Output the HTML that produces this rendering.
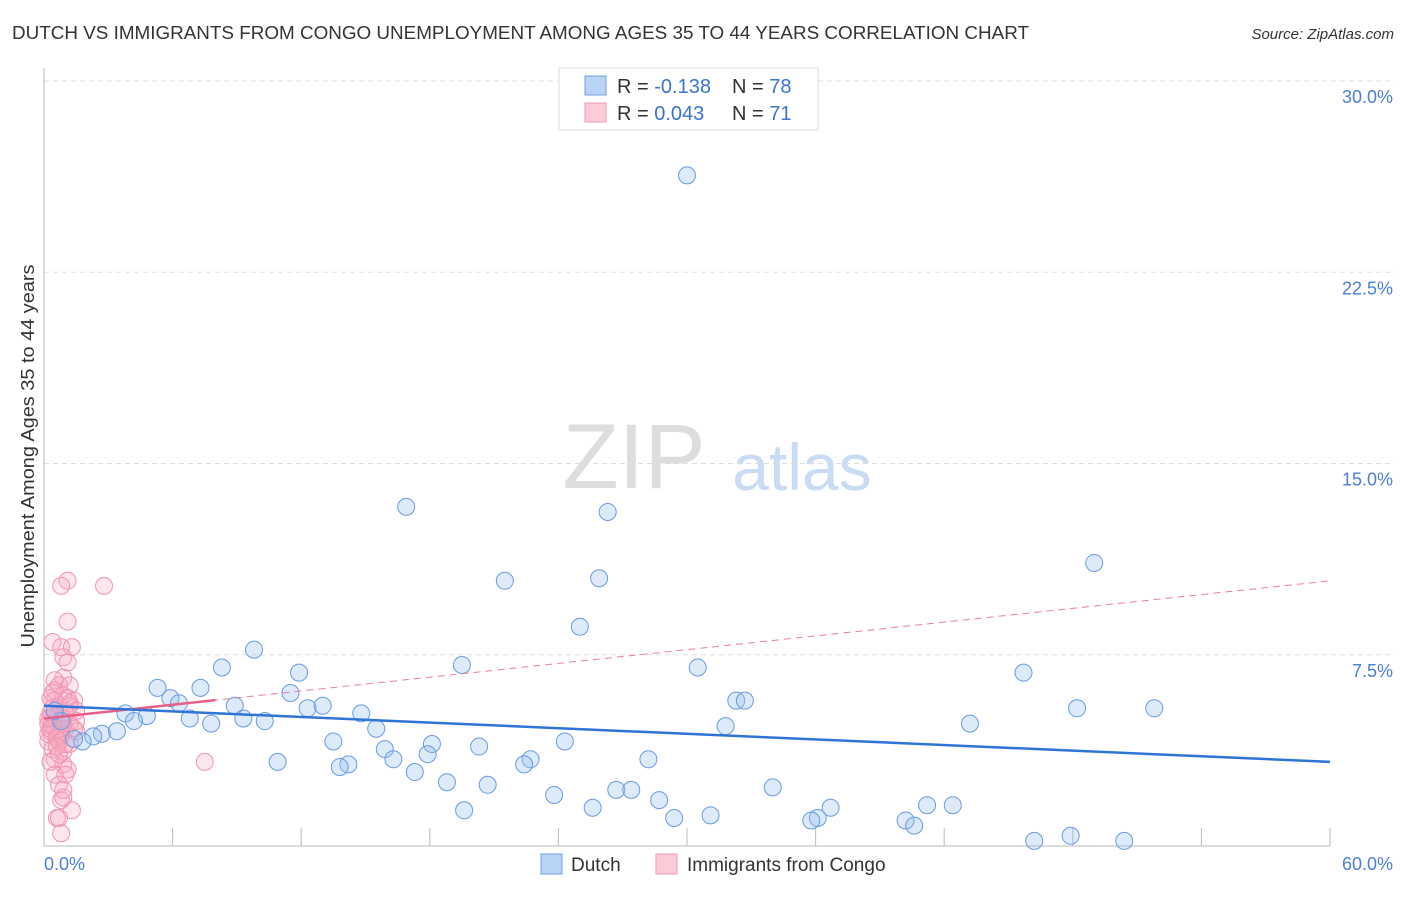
<!DOCTYPE html>
<html><head><meta charset="utf-8"><style>
body{margin:0;background:#fff;font-family:"Liberation Sans",sans-serif;}
svg text{font-family:"Liberation Sans",sans-serif;}
</style></head><body>
<svg id="chart" width="1406" height="892" xmlns="http://www.w3.org/2000/svg">
<text x="12" y="39" font-size="18" fill="#333" textLength="1017" lengthAdjust="spacingAndGlyphs">DUTCH VS IMMIGRANTS FROM CONGO UNEMPLOYMENT AMONG AGES 35 TO 44 YEARS CORRELATION CHART</text>
<text x="1394" y="39" font-size="15" fill="#333" font-style="italic" text-anchor="end">Source: ZipAtlas.com</text>
<text x="634" y="488" font-size="92" fill="#ddd" font-family="Liberation Serif,serif" text-anchor="middle">ZIP</text>
<text x="802" y="490" font-size="66" fill="#c9dcf3" text-anchor="middle">atlas</text>
<g id="grid"></g>
<g id="axes"></g>
<g id="marks"></g>
<text transform="translate(34,456) rotate(-90)" font-size="18" fill="#333" text-anchor="middle" textLength="383" lengthAdjust="spacingAndGlyphs">Unemployment Among Ages 35 to 44 years</text>
<text x="44" y="870" font-size="18" fill="#4a7fd4">0.0%</text>
<text x="1393" y="870" font-size="18" fill="#4a7fd4" text-anchor="end">60.0%</text>
<g>
<rect x="559" y="68" width="259" height="62" fill="#fff" stroke="#ddd"/>
<rect x="585" y="76" width="21" height="19" fill="#b9d3f5" stroke="#6f9fe0"/>
<rect x="585" y="103" width="21" height="19" fill="#fccbd8" stroke="#ee9ab2"/>
<text x="617" y="93" font-size="20" fill="#333">R = <tspan fill="#3a74d0">-0.138</tspan></text>
<text x="732" y="93" font-size="20" fill="#333">N = <tspan fill="#3a74d0">78</tspan></text>
<text x="617" y="120" font-size="20" fill="#333">R = <tspan fill="#3a74d0"> 0.043</tspan></text>
<text x="732" y="120" font-size="20" fill="#333">N = <tspan fill="#3a74d0"> 71</tspan></text>
</g>
<g>
<rect x="541" y="854" width="21" height="20" fill="#b9d3f5" stroke="#6f9fe0"/>
<text x="571" y="871" font-size="19" fill="#333">Dutch</text>
<rect x="656" y="854" width="21" height="20" fill="#fccbd8" stroke="#ee9ab2"/>
<text x="687" y="871" font-size="19" fill="#333">Immigrants from Congo</text>
</g>
</svg>
<script>
const yTicks=[7.5,15,22.5,30];
const yTickLabels=["7.5%","15.0%","22.5%","30.0%"];
const dutchX=[30.0,16.9,26.3,21.5,25.9,49.0,25.0,9.8,8.3,19.5,11.9,30.5,45.7,5.3,7.3,11.5,5.9,6.3,8.9,12.3,13.0,32.3,32.7,3.8,4.8,4.2,6.8,7.8,9.3,10.3,14.8,15.5,31.8,43.2,48.2,51.8,3.4,2.7,2.3,1.8,1.4,13.5,15.9,18.1,20.3,24.3,17.9,16.3,22.7,28.2,10.9,14.2,13.8,22.4,17.3,18.8,20.7,34.0,26.7,27.4,23.8,28.7,25.6,36.7,42.4,41.2,19.6,31.1,29.4,36.1,35.8,40.2,40.6,46.2,47.9,50.4,0.8,0.5];
const dutchY=[26.3,13.3,13.1,10.4,10.5,11.1,8.6,7.7,7.0,7.1,6.8,7.0,6.8,6.2,6.2,6.0,5.8,5.6,5.5,5.4,5.5,5.7,5.7,5.2,5.1,4.9,5.0,4.8,5.0,4.9,5.2,4.6,4.7,4.8,5.4,5.4,4.5,4.4,4.3,4.1,4.2,4.1,3.8,4.0,3.9,4.1,3.6,3.4,3.4,3.4,3.3,3.2,3.1,3.2,2.9,2.5,2.4,2.3,2.2,2.2,2.0,1.8,1.5,1.5,1.6,1.6,1.4,1.2,1.1,1.1,1.0,1.0,0.8,0.2,0.4,0.2,4.9,5.3];
const congoX=[1.1,0.8,2.8,1.1,0.4,0.8,1.3,0.9,1.1,0.9,0.5,0.7,1.2,0.5,0.9,0.3,1.4,0.7,1.2,1.5,0.3,0.5,0.9,0.2,1.2,0.5,1.0,0.3,0.8,1.5,0.2,0.7,1.2,0.4,0.9,0.5,0.3,0.9,1.1,0.5,1.0,0.7,0.8,0.9,0.6,0.7,1.3,0.8,0.9,7.5,1.5,0.4,0.2,0.6,1.0,1.4,0.6,0.3,0.8,1.2,0.4,0.6,1.1,0.7,0.3,0.5,0.9,0.2,1.0,0.4,0.6];
const congoY=[10.4,10.2,10.2,8.8,8.0,7.8,7.8,7.4,7.2,6.6,6.5,6.3,6.3,6.1,5.9,5.8,5.7,5.5,5.6,5.3,5.2,5.1,5.0,4.8,4.8,4.7,4.6,4.5,4.3,4.5,4.1,4.1,4.0,3.8,3.7,3.4,3.3,3.2,3.0,2.8,2.8,2.4,1.8,1.9,1.1,1.1,1.4,0.5,2.2,3.3,4.9,5.4,4.4,4.9,5.2,4.6,4.3,5.0,4.4,5.5,4.7,4.2,5.8,3.6,4.6,5.7,4.8,5.0,4.0,6.0,3.9];
const dutchTrend=[5.5,3.3];
const congoTrend=[5.0,10.4];
const X=v=>44+v*(1286/60);
const Y=v=>846-v*25.5;
const NS="http://www.w3.org/2000/svg";
function mk(tag,attrs,parent){const e=document.createElementNS(NS,tag);for(const k in attrs)e.setAttribute(k,attrs[k]);parent.appendChild(e);return e;}
const grid=document.getElementById('grid'),axes=document.getElementById('axes'),marks=document.getElementById('marks');
yTicks.forEach((t,i)=>{
 const l=mk('line',{x1:44,x2:1395,y1:Y(t),y2:Y(t),stroke:'#ddd','stroke-dasharray':'5,4'},grid);
 
 
 const tx=mk('text',{x:1393,y:Y(t)+22,'font-size':18,fill:'#4a7fd4','text-anchor':'end'},grid);
 tx.textContent=yTickLabels[i];
 
 
});
const ax=mk('line',{x1:44,x2:1330,y1:846,y2:846,stroke:'#bbb'},axes);


const ay=mk('line',{x1:44,x2:44,y1:68,y2:846,stroke:'#bbb'},axes);


for(let i=1;i<=10;i++){
 const t=mk('line',{x1:X(i*6),x2:X(i*6),y1:828,y2:846,stroke:'#bbb'},axes);
 
 
}
congoX.forEach((x,i)=>{
 const c=mk('circle',{cx:X(x),cy:Y(congoY[i]),r:8.5,fill:'rgba(248,170,195,0.28)',stroke:'#f095b0','stroke-width':1},marks);
 
 
});
dutchX.forEach((x,i)=>{
 const c=mk('circle',{cx:X(x),cy:Y(dutchY[i]),r:8.5,fill:'rgba(150,190,240,0.32)',stroke:'#6a9be0','stroke-width':1},marks);
 
 
});
const ct=(v)=>congoTrend[0]+(congoTrend[1]-congoTrend[0])*v/60;
const cd=mk('line',{x1:X(0),y1:Y(congoTrend[0]),x2:X(60),y2:Y(congoTrend[1]),stroke:'#e87fa0','stroke-width':1,'stroke-dasharray':'7,5'},marks);


const cs=mk('line',{x1:X(0),y1:Y(ct(0)),x2:X(8),y2:Y(ct(8)),stroke:'#e8608a','stroke-width':2.5},marks);


const dt=mk('line',{x1:X(0),y1:Y(dutchTrend[0]),x2:X(60),y2:Y(dutchTrend[1]),stroke:'#2f74d6','stroke-width':2.5},marks);


</script>
</body></html>
